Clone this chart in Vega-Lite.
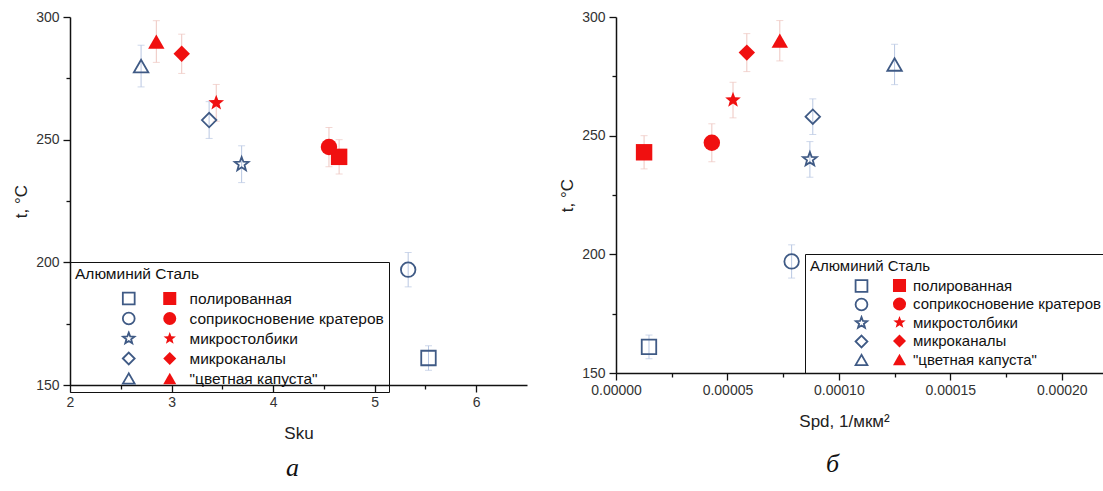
{
  "$schema": "https://vega.github.io/schema/vega-lite/v6.json",
  "padding": {"left": 12, "top": 10, "right": 0, "bottom": 0},
  "background": "white",
  "config": {
    "view": {"stroke": null},
    "font": "Liberation Sans",
    "axis": {"grid": false, "domainColor": "#111", "domainWidth": 1.5, "tickColor": "#111", "tickWidth": 1.3, "labelFont": "Liberation Sans", "labelFontSize": 14, "labelColor": "#333", "labelFlush": false, "labelOverlap": false, "titleFont": "Liberation Sans", "titleFontSize": 17, "titleFontWeight": "normal", "titleColor": "#222"},
    "concat": {"spacing": 31}
  },
  "datasets": {
    "pts": [
      {"material": "Алюминий", "type": "полированная", "sku": 5.53, "spd": 0.0000148, "t": 161, "err": 5},
      {"material": "Алюминий", "type": "соприкосновение кратеров", "sku": 5.33, "spd": 0.0000788, "t": 197, "err": 7},
      {"material": "Алюминий", "type": "микростолбики", "sku": 3.69, "spd": 0.000087, "t": 240, "err": 7.5},
      {"material": "Алюминий", "type": "микроканалы", "sku": 3.37, "spd": 0.0000883, "t": 258, "err": 7.5},
      {"material": "Алюминий", "type": "\"цветная капуста\"", "sku": 2.70, "spd": 0.000125, "t": 280, "err": 8.5},
      {"material": "Сталь", "type": "полированная", "sku": 4.65, "spd": 0.0000126, "t": 243, "err": 7},
      {"material": "Сталь", "type": "соприкосновение кратеров", "sku": 4.55, "spd": 0.000043, "t": 247, "err": 8},
      {"material": "Сталь", "type": "микростолбики", "sku": 3.44, "spd": 0.0000525, "t": 265, "err": 7.5},
      {"material": "Сталь", "type": "микроканалы", "sku": 3.10, "spd": 0.0000587, "t": 285, "err": 8},
      {"material": "Сталь", "type": "\"цветная капуста\"", "sku": 2.85, "spd": 0.0000735, "t": 290, "err": 8.5}
    ]
  },
  "hconcat": [
    {
      "width": 457,
      "height": 368,
      "title": {"text": "а", "orient": "bottom", "font": "Liberation Serif", "fontStyle": "italic", "fontSize": 26, "fontWeight": "normal", "color": "#111", "offset": 14, "dx": -6},
      "data": {"name": "pts"},
      "layer": [
        {
          "mark": {"type": "errorbar", "ticks": {"size": 7}},
          "encoding": {
            "x": {"field": "sku", "type": "quantitative", "scale": {"domain": [2, 6.5], "nice": false, "zero": false},
              "axis": {"title": "Sku", "values": [2, 2.5, 3, 3.5, 4, 4.5, 5, 5.5, 6], "labelExpr": "datum.value % 1 == 0 ? format(datum.value, 'd') : ''", "tickSize": {"condition": {"test": "datum.value % 1 == 0", "value": 7}, "value": 4}, "labelPadding": 3, "titlePadding": 16}},
            "y": {"field": "t", "type": "quantitative", "scale": {"domain": [150, 300], "nice": false, "zero": false},
              "axis": {"title": "t, °C", "values": [150, 175, 200, 225, 250, 275, 300], "labelExpr": "datum.value % 50 == 0 ? datum.label : ''", "tickSize": {"condition": {"test": "datum.value % 50 == 0", "value": 7}, "value": 4}, "labelPadding": 4, "titlePadding": 5}},
            "yError": {"field": "err"},
            "color": {"field": "material", "type": "nominal", "scale": {"domain": ["Алюминий", "Сталь"], "range": ["#b9c7e2", "#eec6c0"]}, "legend": null}
          }
        },
        {
          "transform": [{"filter": "datum.material == 'Алюминий'"}],
          "mark": {"type": "point", "filled": false, "color": "#3f5a85", "strokeWidth": 1.8, "size": 210, "opacity": 1},
          "encoding": {
            "x": {"field": "sku", "type": "quantitative"},
            "y": {"field": "t", "type": "quantitative"},
            "shape": {"field": "type", "type": "nominal",
              "scale": {"domain": ["полированная", "соприкосновение кратеров", "микростолбики", "микроканалы", "\"цветная капуста\""], "range": ["square", "circle", "M0,-1L0.247,-0.34L0.951,-0.309L0.399,0.13L0.588,0.809L0,0.42L-0.588,0.809L-0.399,0.13L-0.951,-0.309L-0.247,-0.34Z", "diamond", "triangle-up"]},
              "legend": {"orient": "none", "legendX": 0, "legendY": 268.5, "direction": "vertical", "title": null, "labelFont": "Liberation Sans", "labelFontSize": 15.5, "labelExpr": "''", "labelOffset": 10, "symbolOffset": 46, "symbolStrokeColor": "#3f5a85", "symbolFillColor": "transparent", "symbolStrokeWidth": 1.8, "symbolSize": 140, "clipHeight": 16, "padding": 5, "rowPadding": 3}}
          }
        },
        {
          "transform": [{"filter": "datum.material == 'Сталь'"}],
          "mark": {"type": "point", "filled": true, "color": "#f01010", "size": 270, "opacity": 1},
          "encoding": {
            "x": {"field": "sku", "type": "quantitative"},
            "y": {"field": "t", "type": "quantitative"},
            "shape": {"field": "type", "type": "nominal",
              "scale": {"domain": ["полированная", "соприкосновение кратеров", "микростолбики", "микроканалы", "\"цветная капуста\""], "range": ["square", "circle", "M0,-1L0.247,-0.34L0.951,-0.309L0.399,0.13L0.588,0.809L0,0.42L-0.588,0.809L-0.399,0.13L-0.951,-0.309L-0.247,-0.34Z", "diamond", "triangle-up"]},
              "legend": {"orient": "none", "legendX": 0, "legendY": 245, "direction": "vertical", "title": "Алюминий Сталь", "titleFont": "Liberation Sans", "titleFontSize": 15.5, "titleFontWeight": "normal", "titleColor": "#111", "titlePadding": 8, "labelFont": "Liberation Sans", "labelFontSize": 15.5, "labelColor": "#111", "labelOffset": 12, "labelLimit": 400, "symbolOffset": 87, "symbolStrokeColor": "#f01010", "symbolFillColor": "#f01010", "symbolStrokeWidth": 0, "symbolSize": 170, "clipHeight": 16, "strokeColor": "#111", "padding": 5, "rowPadding": 3}}
          }
        }
      ],
      "resolve": {"scale": {"shape": "independent"}, "legend": {"shape": "independent"}}
    },
    {
      "width": 497,
      "height": 356,
      "title": {"text": "б", "orient": "bottom", "font": "Liberation Serif", "fontStyle": "italic", "fontSize": 26, "fontWeight": "normal", "color": "#111", "offset": 22, "dx": -32},
      "data": {"name": "pts"},
      "layer": [
        {
          "mark": {"type": "errorbar", "ticks": {"size": 7}},
          "encoding": {
            "x": {"field": "spd", "type": "quantitative", "scale": {"domain": [0, 0.000223], "nice": false, "zero": false},
              "axis": {"title": "Spd, 1/мкм²", "values": [0, 0.000025, 0.00005, 0.000075, 0.0001, 0.000125, 0.00015, 0.000175, 0.0002], "labelExpr": "round(datum.value*1000000) % 50 == 0 ? format(datum.value, '.5f') : ''", "tickSize": {"condition": {"test": "round(datum.value*1000000) % 50 == 0", "value": 7}, "value": 4}, "labelPadding": 3, "titlePadding": 16, "titleX": 228}},
            "y": {"field": "t", "type": "quantitative", "scale": {"domain": [150, 300], "nice": false, "zero": false},
              "axis": {"title": "t, °C", "values": [150, 175, 200, 225, 250, 275, 300], "labelExpr": "datum.value % 50 == 0 ? datum.label : ''", "tickSize": {"condition": {"test": "datum.value % 50 == 0", "value": 7}, "value": 4}, "labelPadding": 4, "titlePadding": 5}},
            "yError": {"field": "err"},
            "color": {"field": "material", "type": "nominal", "scale": {"domain": ["Алюминий", "Сталь"], "range": ["#b9c7e2", "#eec6c0"]}, "legend": null}
          }
        },
        {
          "transform": [{"filter": "datum.material == 'Алюминий'"}],
          "mark": {"type": "point", "filled": false, "color": "#3f5a85", "strokeWidth": 1.8, "size": 210, "opacity": 1},
          "encoding": {
            "x": {"field": "spd", "type": "quantitative"},
            "y": {"field": "t", "type": "quantitative"},
            "shape": {"field": "type", "type": "nominal",
              "scale": {"domain": ["полированная", "соприкосновение кратеров", "микростолбики", "микроканалы", "\"цветная капуста\""], "range": ["square", "circle", "M0,-1L0.247,-0.34L0.951,-0.309L0.399,0.13L0.588,0.809L0,0.42L-0.588,0.809L-0.399,0.13L-0.951,-0.309L-0.247,-0.34Z", "diamond", "triangle-up"]},
              "legend": {"orient": "none", "legendX": 189, "legendY": 256, "direction": "vertical", "title": null, "labelFont": "Liberation Sans", "labelFontSize": 15, "labelExpr": "''", "labelOffset": 10, "symbolOffset": 44, "symbolStrokeColor": "#3f5a85", "symbolFillColor": "transparent", "symbolStrokeWidth": 1.8, "symbolSize": 140, "clipHeight": 16, "padding": 5, "rowPadding": 2.5}}
          }
        },
        {
          "transform": [{"filter": "datum.material == 'Сталь'"}],
          "mark": {"type": "point", "filled": true, "color": "#f01010", "size": 270, "opacity": 1},
          "encoding": {
            "x": {"field": "spd", "type": "quantitative"},
            "y": {"field": "t", "type": "quantitative"},
            "shape": {"field": "type", "type": "nominal",
              "scale": {"domain": ["полированная", "соприкосновение кратеров", "микростолбики", "микроканалы", "\"цветная капуста\""], "range": ["square", "circle", "M0,-1L0.247,-0.34L0.951,-0.309L0.399,0.13L0.588,0.809L0,0.42L-0.588,0.809L-0.399,0.13L-0.951,-0.309L-0.247,-0.34Z", "diamond", "triangle-up"]},
              "legend": {"orient": "none", "legendX": 189, "legendY": 237, "direction": "vertical", "title": "Алюминий Сталь", "titleFont": "Liberation Sans", "titleFontSize": 15, "titleFontWeight": "normal", "titleColor": "#111", "titlePadding": 3.5, "labelFont": "Liberation Sans", "labelFontSize": 15, "labelColor": "#111", "labelOffset": 6, "labelLimit": 400, "symbolOffset": 82, "symbolStrokeColor": "#f01010", "symbolFillColor": "#f01010", "symbolStrokeWidth": 0, "symbolSize": 170, "clipHeight": 16, "strokeColor": "#111", "padding": 5, "rowPadding": 2.5}}
          }
        }
      ],
      "resolve": {"scale": {"shape": "independent"}, "legend": {"shape": "independent"}}
    }
  ]
}
